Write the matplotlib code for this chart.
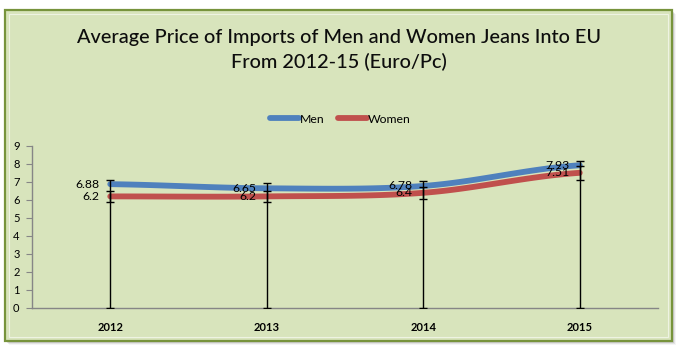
import numpy as np
import matplotlib
matplotlib.use("Agg")
import matplotlib.pyplot as plt
from matplotlib.patches import Rectangle

years = ["2012", "2013", "2014", "2015"]
men = [6.88, 6.65, 6.78, 7.93]
women = [6.2, 6.2, 6.4, 7.51]
men_err_up = [0.25, 0.28, 0.28, 0.25]
women_err_pct = 0.05

W, H, DPI = 684, 350, 100
BG = "#d8e4bc"
BLUE = "#4f81bd"
RED = "#c0504d"
AXIS = "#868686"
FONT = ["Lato", "DejaVu Sans"]
plt.rcParams["font.family"] = FONT


def smooth(xs, ys, n=40):
    # Catmull-Rom style smoothing between consecutive points
    xs = np.asarray(xs, float)
    ys = np.asarray(ys, float)
    px = np.concatenate([[2 * xs[0] - xs[1]], xs, [2 * xs[-1] - xs[-2]]])
    py = np.concatenate([[ys[0]], ys, [ys[-1]]])
    out_x, out_y = [], []
    for i in range(1, len(px) - 2):
        p0, p1, p2, p3 = py[i - 1], py[i], py[i + 1], py[i + 2]
        x1, x2 = px[i], px[i + 1]
        t = np.linspace(0, 1, n)
        c1 = p1 + (p2 - p0) / 6
        c2 = p2 - (p3 - p1) / 6
        yy = (1 - t) ** 3 * p1 + 3 * (1 - t) ** 2 * t * c1 + 3 * (1 - t) * t ** 2 * c2 + t ** 3 * p2
        out_x.append(x1 + (x2 - x1) * t)
        out_y.append(yy)
    return np.concatenate(out_x), np.concatenate(out_y)


fig = plt.figure(figsize=(W / DPI, H / DPI), dpi=DPI)
fig.patch.set_facecolor("white")

# chart frame with soft shadow
for k, a in enumerate([0.10, 0.07, 0.04]):
    fig.patches.append(Rectangle(((5 + 2 + k) / W, 1 - (341 + 2 + k) / H), 667 / W, 331 / H,
                                 transform=fig.transFigure, facecolor="#000000", alpha=a,
                                 edgecolor="none", zorder=-3))
fig.patches.append(Rectangle((5 / W, 1 - 341 / H), 667 / W, 331 / H, transform=fig.transFigure,
                             facecolor=BG, edgecolor="#77933c", linewidth=1.6, zorder=-2))
fig.patches.append(Rectangle((9 / W, 1 - 337 / H), 659 / W, 323 / H, transform=fig.transFigure,
                             facecolor="none", edgecolor="#eef3e2", linewidth=0.8, zorder=-1))

fig.text(339 / W, 1 - 38 / H, "Average Price of Imports of Men and Women Jeans Into EU",
         ha="center", va="center", fontsize=14.3, color="#0d0d0d", fontweight="medium")
fig.text(339 / W, 1 - 62 / H, "From 2012-15 (Euro/Pc)",
         ha="center", va="center", fontsize=14.3, color="#0d0d0d", fontweight="medium")

ax = fig.add_axes([32 / W, 1 - 308 / H, 626 / W, 162 / H])
ax.set_facecolor("none")
x = np.arange(len(years))

mx, my = smooth(x, men)
wx, wy = smooth(x, women)
ax.plot(mx, my, color=BLUE, lw=4.2, solid_capstyle="round", zorder=3, label="Men")
ax.plot(wx, wy, color=RED, lw=4.2, solid_capstyle="round", zorder=3, label="Women")

# error bars: men from zero up to value + error, women +/- percentage
ax.errorbar(x, men, yerr=[men, men_err_up], fmt="none", ecolor="black", elinewidth=1.0,
            capsize=2.8, capthick=1.0, zorder=4)
werr = np.array(women) * women_err_pct
ax.errorbar(x, women, yerr=werr, fmt="none", ecolor="black", elinewidth=1.0,
            capsize=2.8, capthick=1.0, zorder=4)

for xi, v in zip(x, men):
    ax.annotate(f"{v:g}", (xi, v), xytext=(-7.5, 0), textcoords="offset points",
                ha="right", va="center", fontsize=8.8, zorder=5)
for xi, v in zip(x, women):
    ax.annotate(f"{v:g}", (xi, v), xytext=(-7.5, 0), textcoords="offset points",
                ha="right", va="center", fontsize=8.8, zorder=5)

ax.set_xlim(-0.5, len(years) - 0.5)
ax.set_ylim(0, 9)
ax.set_yticks(range(0, 10))
ax.set_xticks(x)
ax.set_xticklabels(years, fontsize=8, fontweight="bold")
ax.tick_params(axis="x", length=0, pad=10)
ax.tick_params(axis="y", length=4, color=AXIS, labelsize=8, pad=5)
for s in ["top", "right"]:
    ax.spines[s].set_visible(False)
for s in ["left", "bottom"]:
    ax.spines[s].set_color(AXIS)
    ax.spines[s].set_linewidth(1.0)

leg = fig.legend(handles=ax.get_lines()[:2], labels=["Men", "Women"], loc="center",
                 bbox_to_anchor=(340 / W, 1 - 119 / H), ncol=2, frameon=False,
                 fontsize=8.8, handlelength=2.4, handletextpad=0.05, columnspacing=1.1)

fig.savefig("out.png", dpi=DPI, facecolor=fig.get_facecolor())
